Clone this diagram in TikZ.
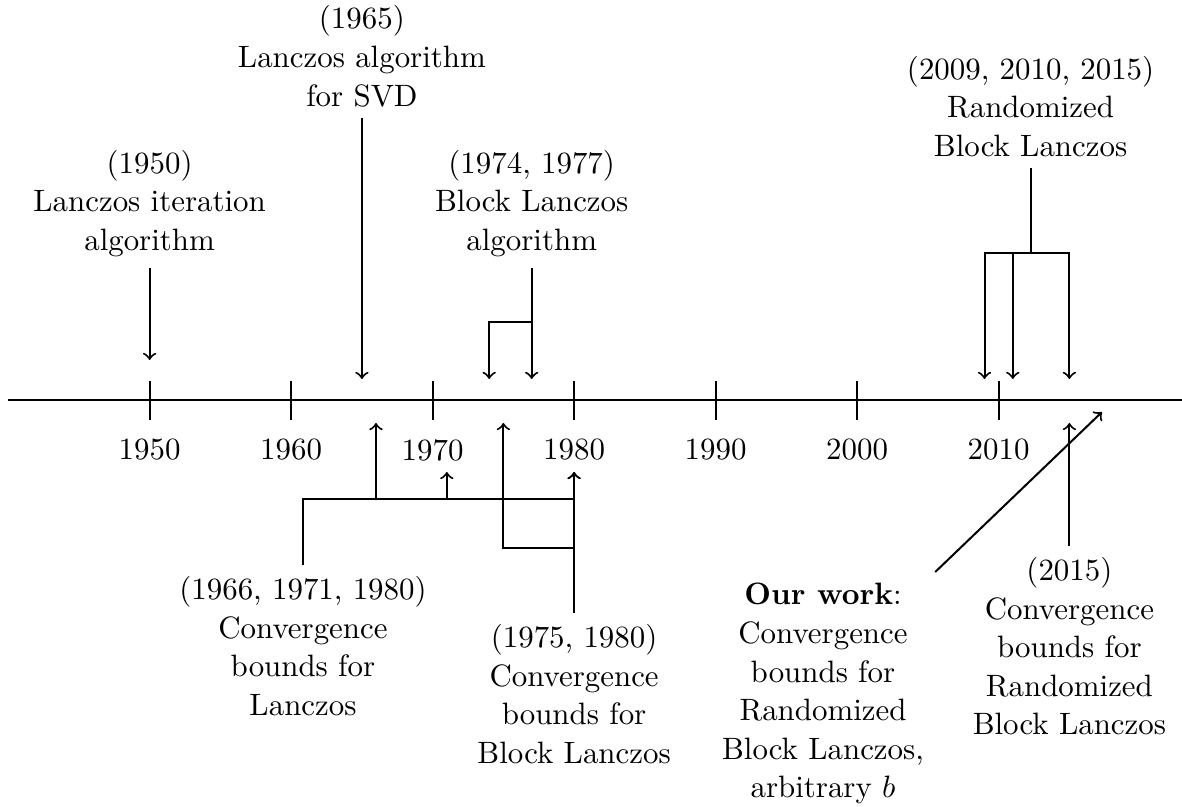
\documentclass[tikz,border=0pt]{standalone}
\begin{document}
\begin{tikzpicture}[x=0.3236pt,y=-0.3236pt,line width=0.65pt,
  lab/.style={align=center,inner sep=3.33pt,font=\fontsize{10}{12.5}\selectfont},
  yr/.style={inner sep=0pt},
  tick/.style={line width=0.65pt}]
\useasboundingbox (0,0) rectangle (1182,807);
% axis
\coordinate (axL) at (8,400);
\coordinate (axR) at (1182,400);
\draw (axL) -- (axR);
% ticks and year labels
\foreach \yy/\xx in {1950/149.6,1960/291.1,1970/432.6,1980/574.1,1990/715.6,2000/857.1,2010/998.6}{
  \coordinate (tt\yy) at (\xx,381);
  \coordinate (tb\yy) at (\xx,420);
  \draw[tick] (tt\yy) -- (tb\yy);
  \node[yr] (y\yy) at (\xx,450) {\yy};
}
% top nodes
\node[lab,anchor=south] (n50) at (149.6,268) {(1950)\\Lanczos iteration\\algorithm};
\node[lab,anchor=south] (n65) at (361.9,118) {(1965)\\Lanczos algorithm\\for SVD};
\node[lab,anchor=south] (nbl) at (531.7,268) {(1974, 1977)\\Block Lanczos\\algorithm};
\node[lab,anchor=south] (nrb) at (1030.6,168) {(2009, 2010, 2015)\\Randomized\\Block Lanczos};
% bottom nodes
\node[lab,anchor=north] (n66) at (303,565) {(1966, 1971, 1980)\\Convergence\\bounds for\\Lanczos};
\node[lab,anchor=north] (n75) at (574.1,613) {(1975, 1980)\\Convergence\\bounds for\\Block Lanczos};
\node[lab,anchor=north] (now) at (823,572) {\textbf{Our work}:\\Convergence\\bounds for\\Randomized\\Block Lanczos,\\arbitrary $b$};
\node[lab,anchor=north] (n15) at (1069.4,546) {(2015)\\Convergence\\bounds for\\Randomized\\Block Lanczos};
% top connectors
\coordinate (a1950) at (149.6,360);
\draw[->] (n50.south) -- (a1950);
\coordinate (a1965) at (361.9,379);
\draw[->] (n65.south) -- (a1965);
\coordinate (jbl) at (531.7,321.7);
\coordinate (a1974) at (489.2,379);
\coordinate (a1977) at (531.7,379);
\draw[->] (nbl.south) -- (a1977);
\draw[->] (jbl) -| (a1974);
\coordinate (jrb) at (1030.6,253);
\coordinate (a2009) at (984.5,379);
\coordinate (a2011) at (1012.8,379);
\coordinate (a2015) at (1069.4,379);
\draw (nrb.south) -- (jrb);
\draw[->] (jrb) -| (a2009);
\draw[->] (jrb) -| (a2011);
\draw[->] (jrb) -| (a2015);
% bottom connectors
\coordinate (h1966) at (376,499);
\coordinate (h1971) at (446.8,499);
\coordinate (h1980) at (574.1,499);
\coordinate (b1966) at (376,423);
\coordinate (b1971) at (446.8,472);
\coordinate (b1980) at (574.1,472);
\draw[->] (n66.north) |- (h1966) -- (b1966);
\draw[->] (n66.north) |- (h1971) -- (b1971);
\draw[->] (n66.north) |- (h1980) -- (b1980);
\coordinate (h1975) at (503.4,547.7);
\coordinate (b1975) at (503.4,423);
\draw[->] (n75.north) -- (b1980);
\draw[->] (n75.north) |- (h1975) -- (b1975);
\coordinate (b2015) at (1069.4,423);
\draw[->] (n15.north) -- (b2015);
\coordinate (bow) at (1102,412);
\draw[->] (now.north east) -- (bow);
\end{tikzpicture}
\end{document}
